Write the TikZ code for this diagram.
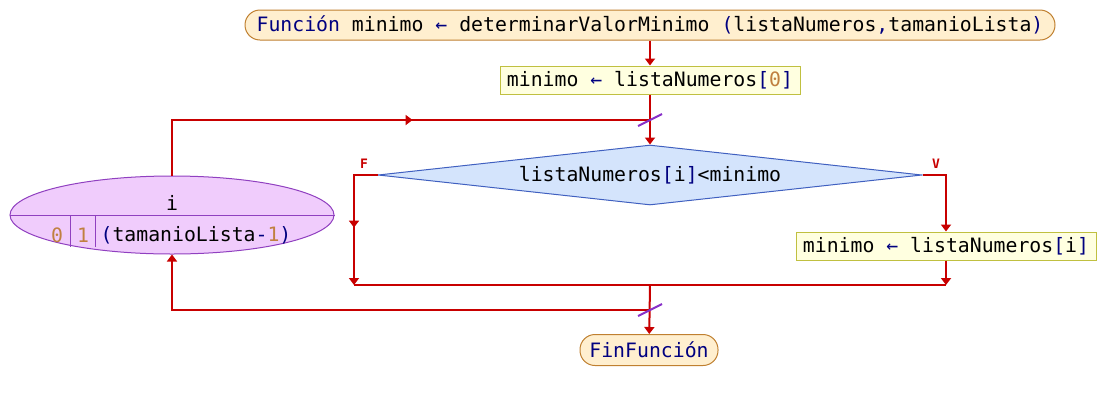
\documentclass[tikz,border=0pt]{standalone}
\usepackage{fontspec}
\setmonofont{DejaVu Sans Mono}
\usetikzlibrary{shapes.geometric,arrows.meta,decorations.markings}

\definecolor{rojo}{HTML}{C80000}
\definecolor{azulk}{HTML}{000080}
\definecolor{numero}{HTML}{C08040}
\definecolor{termfondo}{HTML}{FFEFCF}
\definecolor{termborde}{HTML}{C08030}
\definecolor{asigfondo}{HTML}{FFFFE0}
\definecolor{asigborde}{HTML}{C0C040}
\definecolor{decfondo}{HTML}{D4E4FC}
\definecolor{decborde}{HTML}{4060C0}
\definecolor{parafondo}{HTML}{F0CCFC}
\definecolor{paraborde}{HTML}{9040C0}
\definecolor{violeta}{HTML}{8830C8}

\newcommand{\kw}[1]{\textcolor{azulk}{#1}}
\newcommand{\nm}[1]{\textcolor{numero}{#1}}

\tikzset{
  texto/.style={font=\ttfamily\fontsize{19.8}{22}\selectfont, inner sep=0pt},
  terminal/.style={texto, draw=termborde, fill=termfondo, rounded corners=15pt, line width=1pt},
  asignacion/.style={texto, draw=asigborde, fill=asigfondo, line width=1pt, minimum height=28pt, minimum width=300pt},
  decision/.style={texto, diamond, aspect=9, draw=decborde, fill=decfondo, line width=1pt, minimum width=544pt, minimum height=60pt},
  ciclo/.style={ellipse, draw=paraborde, fill=parafondo, line width=1pt, minimum width=324pt, minimum height=78pt, inner sep=0pt},
  flujo/.style={draw=rojo, line width=2pt},
  punta/.style={-{Triangle[width=10pt,length=7pt]}},
  medio/.style={postaction={decorate}, decoration={markings, mark=at position #1 with {\arrow{Triangle[width=10pt,length=7pt]}}}},
  corte/.style={draw=violeta, line width=2pt},
  rotulo/.style={text=rojo, font=\ttfamily\bfseries\fontsize{13}{13}\selectfont, inner sep=0pt}
}

\begin{document}
\begin{tikzpicture}[x=1pt,y=-1pt]
\useasboundingbox (0,0) rectangle (1106,400);

\node[terminal, minimum width=810pt, minimum height=30pt] (ini) at (650,25)
  {\kw{Función} minimo \kw{←} determinarValorMinimo \kw{(}listaNumeros\kw{,}tamanioLista\kw{)}};
\node[asignacion] (asig1) at (650,80) {minimo \kw{←} listaNumeros\kw{[}\nm{0}\kw{]}};
\node[decision] (cond) at (650,175) {listaNumeros\kw{[}i\kw{]}<minimo};
\node[asignacion] (asig2) at (946,246) {minimo \kw{←} listaNumeros\kw{[}i\kw{]}};
\node[terminal, minimum width=138pt, minimum height=31pt] (fin) at (649,350) {\kw{FinFunción}};

\node[ciclo] (para) at (172,215) {};
\draw[paraborde, line width=1pt] (para.west) -- (para.east);
\draw[paraborde, line width=1pt] (70,215) -- (70,247);
\draw[paraborde, line width=1pt] (95,215) -- (95,247);
\node[texto] (var) at (172,203) {i};
\node[texto] (desde) at (57,235) {\nm{0}};
\node[texto] (paso) at (83,235) {\nm{1}};
\node[texto] (hasta) at (196,235) {\kw{(}tamanioLista\kw{-}\nm{1}\kw{)}};

\node[rotulo] (lf) at (364,164) {F};
\node[rotulo] (lv) at (936,164) {V};

\coordinate (corteA) at (650,120);
\coordinate (corteB) at (650,310);
\coordinate (uneF) at (354,285);
\coordinate (uneV) at (asig2.south |- uneF);
\coordinate (uneB) at (650,285);

\draw[flujo, punta] (ini) -- (asig1);
\draw[flujo] (asig1) -- (corteA);
\draw[flujo, punta] (corteA) -- (cond);
\draw[flujo, medio=0.555] (para.north) |- (corteA);
\draw[flujo, punta, medio=0.57] (cond.west) -| (uneF);
\draw[flujo, punta] (cond.east) -| (asig2.north);
\draw[flujo, punta] (asig2.south) -- (uneV);
\draw[flujo] (uneF) -- (uneV);
\draw[flujo, punta] (uneB) -- (fin);
\draw[flujo, punta] (corteB) -| (para.south);

\draw[corte] ([shift={(-12,6)}]corteA) -- ([shift={(12,-6)}]corteA);
\draw[corte] ([shift={(-12,6)}]corteB) -- ([shift={(12,-6)}]corteB);
\end{tikzpicture}
\end{document}
